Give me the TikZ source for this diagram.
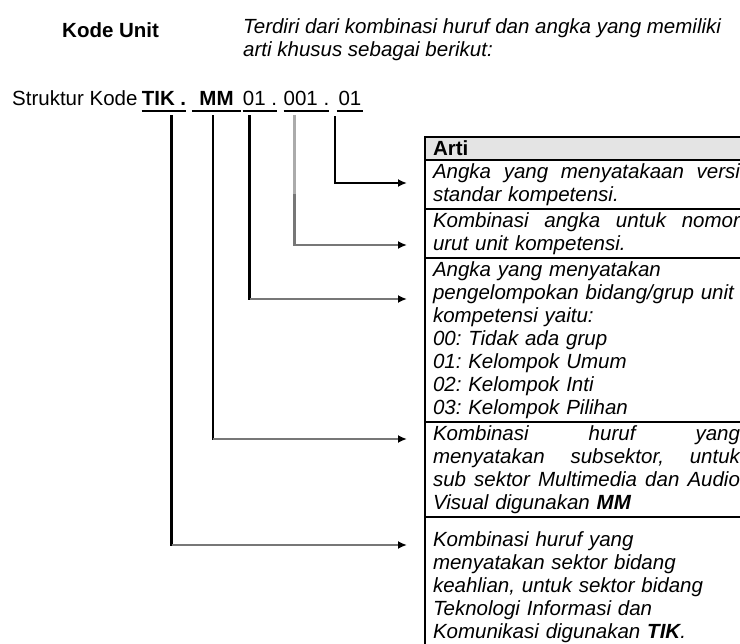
\documentclass[tikz,border=0pt]{standalone}
\usepackage{fontspec}
\setmainfont{Liberation Sans}
\usetikzlibrary{arrows.meta,positioning}
\definecolor{kdgray}{HTML}{777777}
\definecolor{kdlight}{HTML}{ABABAB}
\definecolor{kdhead}{HTML}{E4E4E4}

\newcommand{\kdfont}{\fontsize{20.5}{23}\selectfont\parindent=0pt\frenchspacing}
\newcommand{\jline}[1]{\leavevmode\hbox to 307pt{#1}}

\begin{document}
\begin{tikzpicture}[x=1pt, y=-1pt,
  txt/.style={inner sep=0pt, font=\kdfont},
  code/.style={inner sep=0pt, minimum height=26pt, font=\kdfont\bfseries},
  cell/.style={draw, line width=2.5pt, outer sep=0pt, inner xsep=8pt, inner ysep=0pt,
    text width=307pt, align=left, anchor=north west, font=\kdfont\itshape},
  uline/.style={line width=2.5pt},
  down/.style={line width=2.5pt, line cap=rect},
  link/.style={line width=2.5pt, kdgray, -{Latex[length=9pt,width=8pt,black]}}]

  \useasboundingbox (0,0) rectangle (740,644);
  \clip (0,0) rectangle (740,644);

  % heading
  \node[txt, font=\kdfont\bfseries, anchor=west] (kode) at (62,30) {Kode Unit};
  \node[txt, font=\kdfont\itshape, align=left, anchor=west] (desc) at (243,40)
    {Terdiri dari kombinasi huruf dan angka yang memiliki\\arti khusus sebagai berikut:};

  % code structure
  \node[txt, anchor=west] (struktur) at (12,98) {Struktur Kode};
  \node[code, minimum width=44pt] (tik) at (164,98) {TIK .};
  \node[code, minimum width=49pt] (mm) at (216.5,98) {MM};
  \node[code, minimum width=32pt, font=\kdfont] (kel) at (260,98) {01 .};
  \node[code, minimum width=43pt, font=\kdfont] (urut) at (306.5,98) {001 .};
  \node[code, minimum width=26pt, font=\kdfont] (versi) at (350,98) {01};
  \foreach \n in {tik,mm,kel,urut,versi}
    \draw[uline] (\n.south west) -- (\n.south east);

  % table of meanings
  \node[cell, fill=kdhead, minimum height=23pt, font=\kdfont\bfseries] (arti) at (425,137) {Arti};
  \node[cell, minimum height=49pt, below=0pt of arti] (rversi)
    {\jline{Angka\hfill yang\hfill menyatakaan\hfill versi}\\standar kompetensi.};
  \node[cell, minimum height=49pt, below=0pt of rversi] (rurut)
    {\jline{Kombinasi\hfill angka\hfill untuk\hfill nomor}\\urut unit kompetensi.};
  \node[cell, minimum height=164pt, below=0pt of rurut] (rkel)
    {Angka yang menyatakan\\pengelompokan bidang/grup unit\\kompetensi yaitu:\\
     00: Tidak ada grup\\01: Kelompok Umum\\02: Kelompok Inti\\03: Kelompok Pilihan};
  \node[cell, minimum height=95pt, below=0pt of rkel] (rmm)
    {\jline{Kombinasi\hfill huruf\hfill yang}\\\jline{menyatakan\hfill subsektor,\hfill untuk}\\
     \jline{sub\hfill sektor\hfill Multimedia\hfill dan\hfill Audio}\\Visual digunakan \textbf{MM}};
  \node[cell, minimum height=140pt, below=0pt of rmm] (rtik)
    {Kombinasi huruf yang\\menyatakan sektor bidang\\keahlian, untuk sektor bidang\\
     Teknologi Informasi dan\\Komunikasi digunakan \textbf{TIK}.};

  % arrow ends
  \coordinate (aversi) at (407,183);
  \coordinate (aurut) at (407,245);
  \coordinate (akel) at (407,299);
  \coordinate (amm) at (407,439);
  \coordinate (atik) at (407,545);

  \coordinate (sversi) at ([xshift=-2pt,yshift=-5pt]versi.south west);
  \coordinate (surut) at ([xshift=11pt,yshift=-5pt]urut.south west);
  \coordinate (skel) at ([xshift=7pt,yshift=-5pt]kel.south west);
  \coordinate (smm) at ([xshift=21pt,yshift=-5pt]mm.south west);
  \coordinate (stik) at ([xshift=30pt,yshift=-5pt]tik.south west);

  \draw[link, black] (sversi) |- (aversi);

  \draw[down, kdgray] (surut) -- (surut |- aurut);
  \draw[down, kdlight] (surut) -- ++(0,77);
  \draw[link] (surut |- aurut) -- (aurut);

  \draw[down] (skel) -- (skel |- akel);
  \draw[link] (skel |- akel) -- (akel);

  \draw[down] (smm) -- (smm |- amm);
  \draw[link] (smm |- amm) -- (amm);

  \draw[down] (stik) -- (stik |- atik);
  \draw[link] (stik |- atik) -- (atik);
\end{tikzpicture}
\end{document}
